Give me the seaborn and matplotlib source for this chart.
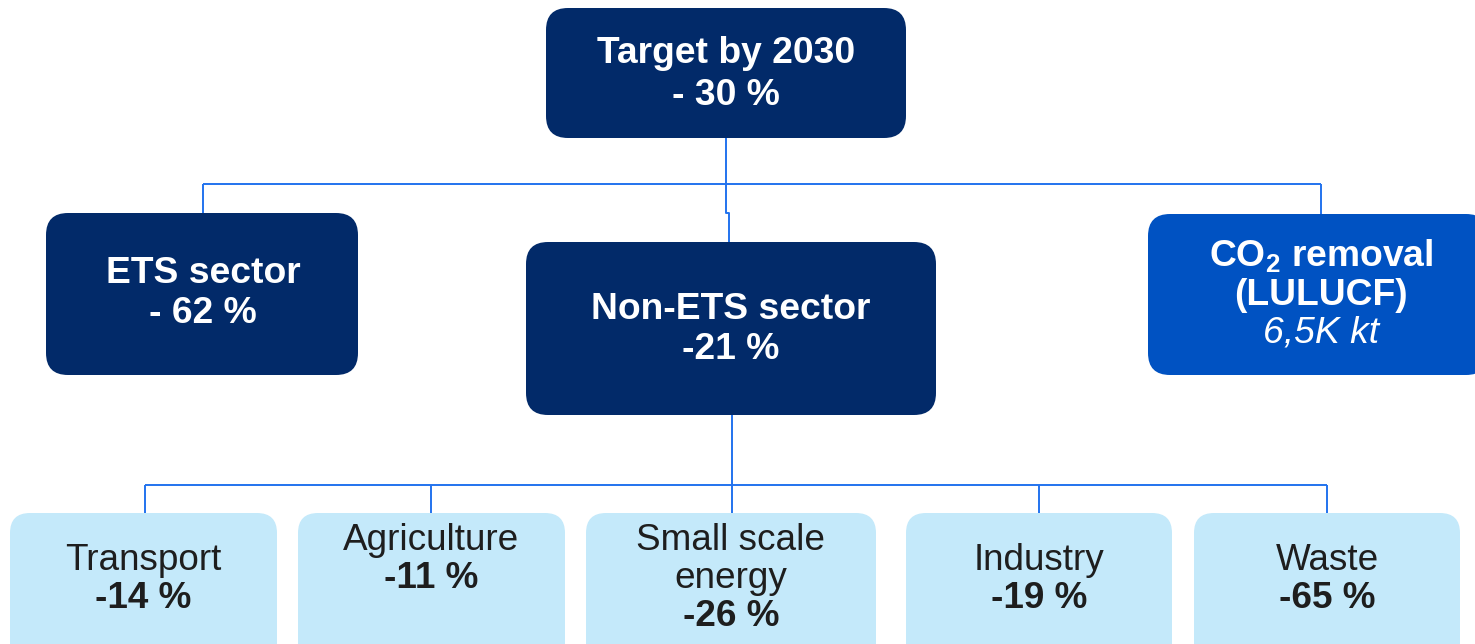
import matplotlib
matplotlib.use("Agg")
import matplotlib.pyplot as plt
from matplotlib.patches import FancyBboxPatch
import seaborn as sns

sns.set_theme(style="white")
plt.rcParams["font.family"] = ["Liberation Sans", "DejaVu Sans"]
plt.rcParams["mathtext.fontset"] = "custom"
plt.rcParams["mathtext.rm"] = "Liberation Sans:bold"
plt.rcParams["mathtext.bf"] = "Liberation Sans:bold"

# ──────────────────────────────────────────────
# Data
# ──────────────────────────────────────────────
top_title = "Target by 2030"
top_value = "- 30 %"

mid_titles = ["ETS sector", "Non-ETS sector", "CO$_\\mathbf{2}$ removal\n(LULUCF)"]
mid_values = ["- 62 %", "-21 %", "6,5K kt"]

sector_names = ["Transport", "Agriculture", "Small scale\nenergy", "Industry", "Waste"]
sector_values = ["-14 %", "-11 %", "-26 %", "-19 %", "-65 %"]

# ──────────────────────────────────────────────
# Layout (pixel space, y grows downward)
# ──────────────────────────────────────────────
NAVY = "#022a69"
BLUE = "#0052c2"
LIGHT = "#c4e9fa"
LINE = "#2273ee"
DARK_TXT = "#1e1e1e"
FS = 26.8
FS_BOT = 26.6

top_box = (546, 8, 360, 130)
mid_boxes = [(46, 213, 312, 162), (526, 242, 410, 173), (1148, 214, 340, 161)]
mid_colors = [NAVY, NAVY, BLUE]
bot_boxes = [(10, 513, 267, 150), (298, 513, 267, 150), (586, 513, 290, 150),
             (906, 513, 266, 150), (1194, 513, 266, 150)]

fig = plt.figure(figsize=(14.75, 6.44), dpi=100)
ax = fig.add_axes([0, 0, 1, 1])
ax.set_xlim(0, 1475)
ax.set_ylim(644, 0)
ax.axis("off")


def draw_box(box, color, radius=22):
    x, y, w, h = box
    ax.add_patch(FancyBboxPatch((x, y), w, h,
                                boxstyle=f"round,pad=0,rounding_size={radius}",
                                fc=color, ec="none", zorder=2))


def line(xs, ys):
    ax.plot(xs, ys, color=LINE, lw=1.4, zorder=1, solid_capstyle="butt")


# connectors: top -> middle row
line([726, 726], [138, 184])
line([203, 1321], [184, 184])
line([203, 203], [184, 213])
line([1321, 1321], [184, 214])
line([726, 726, 729, 729], [184, 213, 213, 242])

# connectors: non-ETS -> sectors
drops = [145, 431, 732, 1039, 1327]
line([732, 732], [415, 485])
line([drops[0], drops[-1]], [485, 485])
for dx in drops:
    line([dx, dx], [485, 513])

# top box
draw_box(top_box, NAVY)
ax.text(726, 53, top_title, color="white", fontsize=FS, fontweight="bold",
        ha="center", va="center", zorder=3)
ax.text(726, 95, top_value, color="white", fontsize=FS, fontweight="bold",
        ha="center", va="center", zorder=3)

# middle row
for box, col in zip(mid_boxes, mid_colors):
    draw_box(box, col)

ax.text(203, 273, mid_titles[0], color="white", fontsize=FS, fontweight="bold",
        ha="center", va="center", zorder=3)
ax.text(203, 313, mid_values[0], color="white", fontsize=FS, fontweight="bold",
        ha="center", va="center", zorder=3)
ax.text(731, 309, mid_titles[1], color="white", fontsize=FS, fontweight="bold",
        ha="center", va="center", zorder=3)
ax.text(731, 349, mid_values[1], color="white", fontsize=FS, fontweight="bold",
        ha="center", va="center", zorder=3)
co2_lines = mid_titles[2].split("\n")
ax.text(1321, 256, co2_lines[0], color="white", fontsize=FS, fontweight="bold",
        ha="center", va="center", zorder=3)
ax.text(1321, 295, co2_lines[1], color="white", fontsize=FS, fontweight="bold",
        ha="center", va="center", zorder=3)
ax.text(1321, 333, mid_values[2], color="white", fontsize=FS, fontstyle="italic",
        ha="center", va="center", zorder=3)

# bottom row
name_y = [560, 540, 540, 560, 560]
for box, name, val, ny in zip(bot_boxes, sector_names, sector_values, name_y):
    draw_box(box, LIGHT, radius=20)
    cx = box[0] + box[2] / 2
    parts = name.split("\n")
    for i, p in enumerate(parts):
        ax.text(cx, ny + i * 38, p, color=DARK_TXT, fontsize=FS_BOT,
                ha="center", va="center", zorder=3)
    ax.text(cx, ny + len(parts) * 38, val, color=DARK_TXT, fontsize=FS_BOT,
            fontweight="bold", ha="center", va="center", zorder=3)

fig.savefig("out.png", dpi=100)
